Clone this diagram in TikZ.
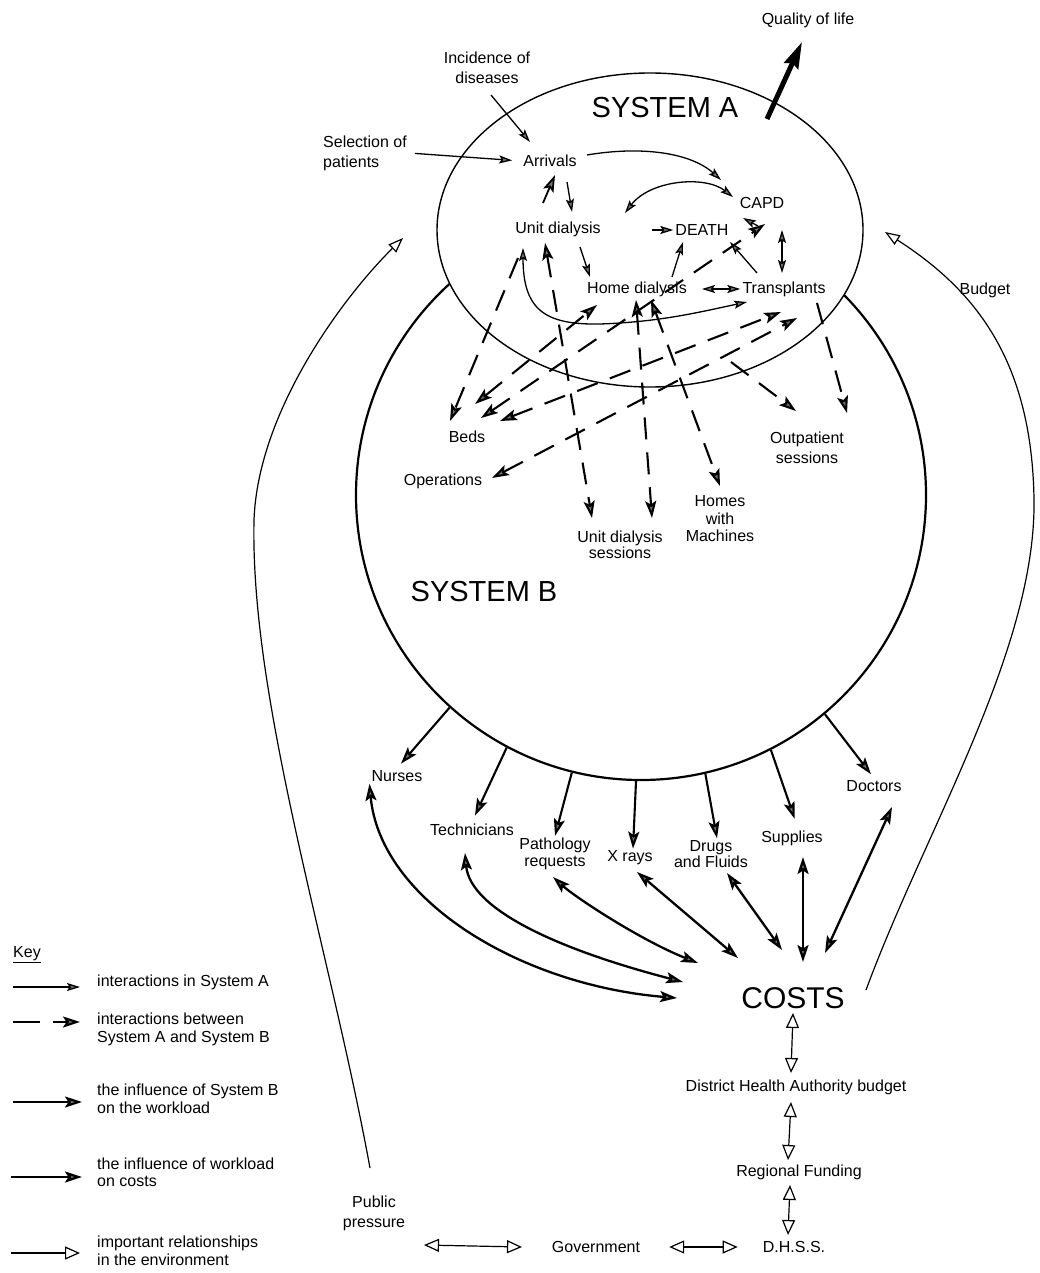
\documentclass[tikz,border=0pt]{standalone}
\usepackage{fontspec}
\setmainfont{Liberation Sans}
\usetikzlibrary{arrows.meta,shapes.geometric,calc}
\tikzset{
  hA/.tip={Stealth[length=13pt,width=8pt,inset=2.5pt,fill=black!55]},
  hH/.tip={Stealth[length=17pt,width=11pt,inset=3.5pt,fill=black!55]},
  hO/.tip={Triangle[length=15pt,width=13pt,fill=white]},
  hOs/.tip={Triangle[length=15pt,width=11pt,fill=white]},
  lbl/.style={font=\fontsize{16}{19}\selectfont, align=center, inner sep=2pt},
  bigtxt/.style={font=\fontsize{29}{31}\selectfont, inner sep=2pt},
  inA/.style={line width=1.3pt},
  aToB/.style={line width=2.1pt, dash pattern=on 22pt off 13pt},
  onload/.style={line width=2.1pt},
  oncost/.style={line width=2.3pt},
  envrel/.style={line width=1.2pt},
}
\begin{document}
\begin{tikzpicture}[x=1pt,y=-1pt]
\useasboundingbox (0,0) rectangle (1040,1273);
\fill[white] (0,0) rectangle (1040,1273);

% ---------- the two systems
\node[circle, draw, line width=2.2pt, minimum size=570pt, inner sep=0pt] (B) at (641,495) {};
\node[ellipse, draw, fill=white, line width=1.4pt, minimum width=426pt, minimum height=314pt, inner sep=0pt] (A) at (650,230) {};

% ---------- labels
\node[lbl] (qol) at (808,20) {Quality of life};
\node[lbl, font=\fontsize{16}{20}\selectfont] (inc) at (487,68) {Incidence of\\diseases};
\node[bigtxt] (sysA) at (665,108) {SYSTEM A};
\node[lbl, font=\fontsize{16}{20}\selectfont, align=left, anchor=west] (sel) at (321,153) {Selection of\\patients};
\node[lbl] (arr) at (550,161) {Arrivals};
\node[lbl] (capd) at (762,203) {CAPD};
\node[lbl] (unit) at (558,229) {Unit dialysis};
\node[lbl] (death) at (702,230) {DEATH};
\node[lbl] (home) at (637,289) {Home dialysis};
\node[lbl] (trans) at (784,289) {Transplants};
\node[lbl] (beds) at (467,437) {Beds};
\node[lbl] (ops) at (443,481) {Operations};
\node[lbl, font=\fontsize{16}{20}\selectfont] (outp) at (807,448) {Outpatient\\sessions};
\node[lbl, font=\fontsize{16}{16.5}\selectfont] (uds) at (620,545) {Unit dialysis\\sessions};
\node[lbl, font=\fontsize{16}{17.5}\selectfont] (hwm) at (720,519) {Homes\\with\\Machines};
\node[bigtxt] (sysB) at (484,592) {SYSTEM B};
\node[lbl] (nurses) at (397,776) {Nurses};
\node[lbl] (tech) at (472,830) {Technicians};
\node[lbl, font=\fontsize{16}{17}\selectfont] (path) at (555,854) {Pathology\\requests};
\node[lbl] (xray) at (630,858) {X rays};
\node[lbl, font=\fontsize{16}{12}\selectfont] (drugs) at (711,854) {Drugs\\and Fluids};
\node[lbl] (supplies) at (792,838) {Supplies};
\node[lbl] (doctors) at (874,786) {Doctors};
\node[font=\fontsize{30}{32}\selectfont, inner sep=2pt] (costs) at (793,998) {COSTS};
\node[lbl] (dha) at (796,1087) {District Health Authority budget};
\node[lbl] (reg) at (799,1172) {Regional Funding};
\node[lbl] (dhss) at (794,1247) {D.H.S.S.};
\node[lbl] (gov) at (596,1247) {Government};
\node[lbl, font=\fontsize{16}{20}\selectfont] (pub) at (374,1213) {Public\\pressure};
\node[lbl] (budget) at (985,290) {Budget};

% ---------- interactions in System A
\draw[inA,-{hA},shorten <=6pt,shorten >=9pt] (sel.east) -- (arr.west);
\coordinate (incO) at (491,95);  \coordinate (arrN) at (530,142);
\draw[inA,-{hA}] (incO) -- (arrN);
\coordinate (arrE) at (587,155); \coordinate (capdW) at (721,180);
\draw[inA,-{hA}] (arrE) .. controls (640,146) and (690,152) .. (capdW);
\coordinate (unitN1) at (543,203); \coordinate (arrS1) at (555,175);
\draw[inA,line width=1.8pt,-{hH}] (unitN1) -- (arrS1);
\coordinate (arrS2) at (567,182); \coordinate (unitN2) at (572,212);
\draw[inA,-{hA}] (arrS2) -- (unitN2);
\coordinate (unitNE) at (625,213); \coordinate (capdSW) at (733,197);
\draw[inA,{hA}-{hA}] (unitNE) .. controls (650,180) and (705,175) .. (capdSW);
\draw[inA,-{hA}] ([xshift=-21pt]death.west) -- (death.west);
\coordinate (unitS) at (580,247); \coordinate (homeN) at (590,277);
\draw[inA,-{hA}] (unitS) -- (homeN);
\coordinate (homeNE) at (672,277); \coordinate (deathS) at (683,242);
\draw[inA,-{hA}] (homeNE) -- (deathS);
\coordinate (transNW) at (757,273); \coordinate (deathSE) at (730,242);
\draw[inA,-{hA}] (transNW) -- (deathSE);
\coordinate (capdS) at (782,230); \coordinate (transN) at (782,273);
\draw[inA,{hA}-{hA}] (capdS) -- (transN);
\draw[inA,{hA}-{hA},shorten <=13pt] (home.east) -- (trans.west);
\coordinate (unitSW) at (523,248); \coordinate (transSW) at (747,302);
\draw[inA,{hA}-{hA}] (unitSW) .. controls (523,310) and (545,325) .. (600,324)
      .. controls (660,322) and (700,312) .. (transSW);
\coordinate (capdX1) at (758,226); \coordinate (capdX2) at (743,218);
\draw[inA,-{hA}] (capdX1) -- (capdX2);

% ---------- quality of life
\coordinate (qolS) at (767,119); \coordinate (qolT) at (802,42);
\draw[line width=5pt,-{Stealth[length=26pt,width=15pt,inset=3pt,fill=black!55]}] (qolS) -- (qolT);

% ---------- interactions between System A and System B
\coordinate (d1a) at (518,258); \coordinate (d1b) at (450,421);
\draw[aToB,-{hH}] (d1a) -- (d1b);
\coordinate (d2a) at (545,243); \coordinate (d2b) at (592,518);
\draw[aToB,{hH}-{hH}] (d2a) -- (d2b);
\coordinate (d3a) at (636,300); \coordinate (d3b) at (652,518);
\draw[aToB,{hH}-{hH}] (d3a) -- (d3b);
\coordinate (d4a) at (651,300); \coordinate (d4b) at (720,486);
\draw[aToB,{hH}-{hH}] (d4a) -- (d4b);
\coordinate (d5a) at (475,404); \coordinate (d5b) at (597,305);
\draw[aToB,{hH}-{hH}] (d5a) -- (d5b);
\coordinate (d6a) at (481,418); \coordinate (d6b) at (765,224);
\draw[aToB,{hH}-{hH}] (d6a) -- (d6b);
\coordinate (d7a) at (500,421); \coordinate (d7b) at (781,312);
\draw[aToB,{hH}-{hH}] (d7a) -- (d7b);
\coordinate (d8a) at (492,478); \coordinate (d8b) at (797,318);
\draw[aToB,{hH}-{hH}] (d8a) -- (d8b);
\coordinate (d9a) at (817,303); \coordinate (d9b) at (847,413);
\draw[aToB,-{hH}] (d9a) -- (d9b);
\coordinate (d10a) at (731,362); \coordinate (d10b) at (796,411);
\draw[aToB,-{hH}] (d10a) -- (d10b);

% ---------- influence of System B on the workload
\draw[onload,-{hH},shorten >=6pt] (B.-132.4) -- (nurses.north);
\draw[onload,-{hH},shorten >=7pt] (B.-118.1) -- (tech.north);
\draw[onload,-{hH}] (B.-104.2) -- (path.north);
\draw[onload,-{hH}] (B.-91.2) -- ([xshift=3pt]xray.north);
\draw[onload,-{hH}] (B.-77.5) -- ([xshift=6pt]drugs.north);
\draw[onload,-{hH},shorten >=10pt] (B.-63.6) -- ([xshift=6pt]supplies.north);
\draw[onload,-{hH},shorten >=5pt] (B.-50.1) -- (doctors.north);

% ---------- influence of workload on costs
\coordinate (cN) at (677,998);
\draw[oncost,{hH}-{hH}] (nurses.south west) .. controls (380,900) and (520,985) .. (cN);
\coordinate (tT) at (465,853); \coordinate (cT) at (683,982);
\draw[oncost,{hH}-{hH}] (tT) .. controls (470,910) and (560,950) .. (cT);
\coordinate (pT) at (553,877); \coordinate (cP) at (698,963);
\draw[oncost,{hH}-{hH}] (pT) .. controls (575,897) and (640,940) .. (cP);
\coordinate (xT) at (637,872); \coordinate (cX) at (738,958);
\draw[oncost,{hH}-{hH}] (xT) -- (cX);
\coordinate (dT) at (727,873); \coordinate (cD) at (782,950);
\draw[oncost,{hH}-{hH}] (dT) -- (cD);
\coordinate (sT) at (803,857); \coordinate (cS) at (803,962);
\draw[oncost,{hH}-{hH}] (sT) -- (cS);
\coordinate (oT) at (892,807); \coordinate (cO) at (825,953);
\draw[oncost,{hH}-{hH}] (oT) -- (cO);

% ---------- relationships in the environment
\coordinate (e1a) at (793,1013); \coordinate (e1b) at (791,1073);
\draw[envrel,{hO}-{hO}] (e1a) -- (e1b);
\coordinate (e2a) at (791,1102); \coordinate (e2b) at (788,1160);
\draw[envrel,{hO}-{hO}] (e2a) -- (e2b);
\coordinate (e3a) at (790,1185); \coordinate (e3b) at (788,1235);
\draw[envrel,{hO}-{hO}] (e3a) -- (e3b);
\coordinate (e4a) at (424,1245); \coordinate (e4b) at (522,1247);
\draw[envrel,{hO}-{hO}] (e4a) -- (e4b);
\draw[envrel,{hO}-{hO},shorten <=27pt,shorten >=23pt] (gov.east) -- (dhss.west);
\coordinate (pubN) at (370,1168); \coordinate (toA1) at (403,238);
\draw[envrel,-{hOs}] (pubN) .. controls (330,950) and (250,700) .. (254,520)
      .. controls (258,410) and (345,295) .. (toA1);
\coordinate (costE) at (866,990); \coordinate (toA2) at (885,232);
\draw[envrel,-{hOs}] (costE) .. controls (925,830) and (1036,650) .. (1034,500)
      .. controls (1032,360) and (975,290) .. (toA2);

% ---------- key
\node[lbl, anchor=west] (key) at (11,955) {\underline{Key}};
\coordinate (k1) at (13,987);
\draw[inA,-{hA}] (k1) -- ++(67,0);
\node[lbl, anchor=west, align=left] (kt1) at (95,982) {interactions in System A};
\coordinate (k2) at (13,1022);
\draw[aToB, dash pattern=on 27pt off 13pt, -{hH}] (k2) -- ++(67,0);
\node[lbl, font=\fontsize{16}{18}\selectfont, anchor=west, align=left] (kt2) at (95,1029) {interactions between\\System A and System B};
\coordinate (k3) at (13,1102);
\draw[onload,-{hH}] (k3) -- ++(69,0);
\node[lbl, font=\fontsize{16}{18}\selectfont, anchor=west, align=left] (kt3) at (95,1099) {the influence of System B\\on the workload};
\coordinate (k4) at (11,1177);
\draw[oncost,-{hH}] (k4) -- ++(71,0);
\node[lbl, font=\fontsize{16}{17}\selectfont, anchor=west, align=left] (kt4) at (95,1172) {the influence of workload\\on costs};
\coordinate (k5) at (11,1253);
\draw[envrel,-{hO}] (k5) -- ++(69,0);
\node[lbl, font=\fontsize{16}{18}\selectfont, anchor=west, align=left] (kt5) at (95,1251) {important relationships\\in the environment};
\end{tikzpicture}
\end{document}
